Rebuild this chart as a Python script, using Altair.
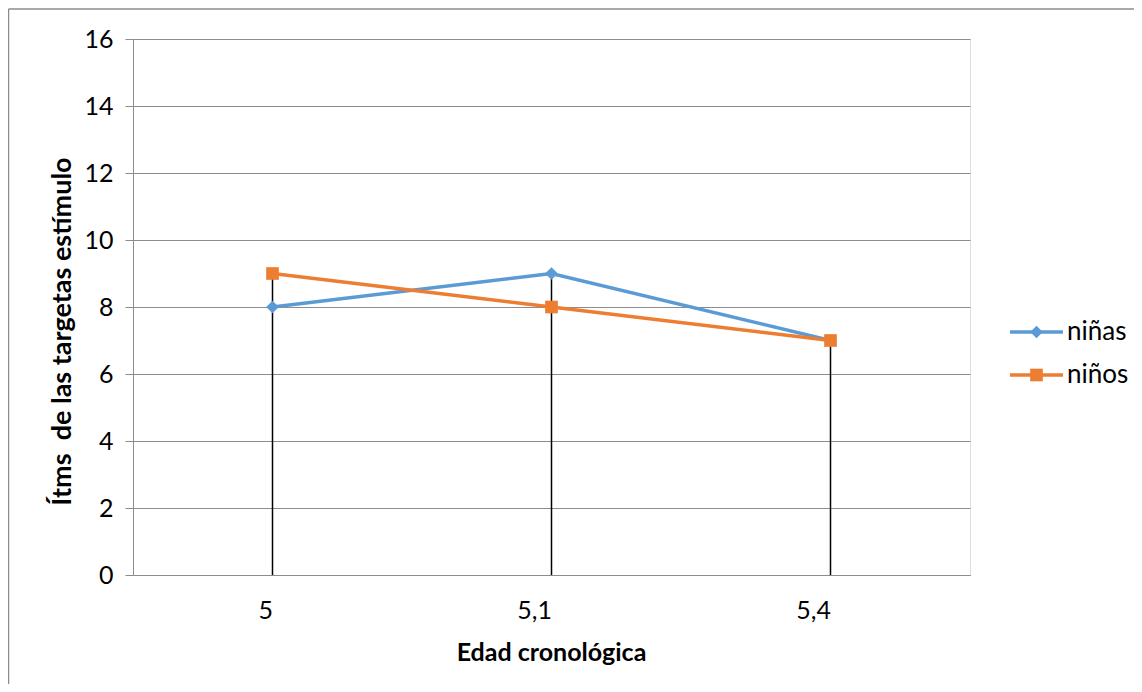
import altair as alt
import pandas as pd

categories = ["5", "5,1", "5,4"]
series_names = ["niñas", "niños"]
ninas = [8, 9, 7]
ninos = [9, 8, 7]
colors = ["#5B9BD5", "#ED7D31"]
shapes = ["diamond", "square"]

rows = []
for c, v in zip(categories, ninas):
    rows.append({"edad": c, "serie": series_names[0], "valor": v})
for c, v in zip(categories, ninos):
    rows.append({"edad": c, "serie": series_names[1], "valor": v})
df = pd.DataFrame(rows)

FONT = "Lato"
W, H = 837, 536
LABEL_SIZE = 25
TITLE_SIZE = 25

xenc = alt.X("edad:O", sort=categories,
             scale=alt.Scale(type="point", padding=0.5),
             axis=alt.Axis(title="Edad cronológica", ticks=False, labelAngle=0,
                           labelPadding=35, labelFontSize=LABEL_SIZE, labelFont=FONT,
                           labelColor="#000000", domainColor="#8c8c8c",
                           titleFont=FONT, titleFontSize=TITLE_SIZE, titleFontWeight="bold",
                           titleColor="#000000", titleX=418, titleY=77,
                           titleBaseline="middle", grid=False))
yenc = alt.Y("valor:Q",
             scale=alt.Scale(domain=[0, 16], nice=False),
             axis=alt.Axis(title="Ítms \u00a0de las targetas estímulo", values=list(range(0, 17, 2)),
                           tickSize=8, tickColor="#8c8c8c", domainColor="#8c8c8c",
                           gridColor="#8c8c8c", labelFontSize=LABEL_SIZE, labelFont=FONT,
                           labelColor="#000000", labelPadding=12,
                           titleFont=FONT, titleFontSize=27, titleFontWeight="bold",
                           titleColor="#000000", titleX=-71, titleY=292,
                           titleAngle=-90, titleBaseline="middle", titleAlign="center"))

color = alt.Color("serie:N", scale=alt.Scale(domain=series_names, range=colors), legend=None)
shape = alt.Shape("serie:N", scale=alt.Scale(domain=series_names, range=shapes), legend=None)

base = alt.Chart(df)

drops = base.transform_aggregate(
    maxv="max(valor)", groupby=["edad"]
).mark_rule(color="#000000", strokeWidth=1.5).encode(
    x=alt.X("edad:O", sort=categories, scale=alt.Scale(type="point", padding=0.5)),
    y=alt.Y("maxv:Q"),
    y2=alt.datum(0),
)

lines = base.mark_line(strokeWidth=3.5).encode(x=xenc, y=yenc, color=color, order=alt.Order("edad:O"))
points = base.mark_point(filled=True, opacity=1, size=160).encode(
    x=alt.X("edad:O", sort=categories), y="valor:Q", color=color, shape=shape)

frame_top = alt.Chart(pd.DataFrame({"a": [0]})).mark_rule(color="#8c8c8c", strokeWidth=1.5).encode(
    x=alt.value(-124.5), x2=alt.value(1100), y=alt.value(-30))
frame_left = alt.Chart(pd.DataFrame({"a": [0]})).mark_rule(color="#8c8c8c", strokeWidth=1.5).encode(
    x=alt.value(-124.5), y=alt.value(-30), y2=alt.value(700))

legend_layers = []
for i, (name, col, shp) in enumerate(zip(series_names, colors, shapes)):
    ly = 293 + i * 43
    ldf = pd.DataFrame({"serie": [name]})
    legend_layers.append(alt.Chart(ldf).mark_rule(color=col, strokeWidth=3.5).encode(
        x=alt.value(877), x2=alt.value(930), y=alt.value(ly)))
    legend_layers.append(alt.Chart(ldf).mark_point(filled=True, opacity=1, size=160, color=col, shape=shp).encode(
        x=alt.value(903.5), y=alt.value(ly)))
    legend_layers.append(alt.Chart(ldf).mark_text(align="left", baseline="middle", font=FONT,
                                                   fontSize=26, color="#000000").encode(
        x=alt.value(934), y=alt.value(ly), text="serie:N"))

chart = alt.layer(frame_top, frame_left, drops, lines, points, *legend_layers).properties(
    width=W, height=H,
    autosize=alt.AutoSizeParams(type="none"),
    padding={"left": 125, "top": 31, "right": 164, "bottom": 109},
).configure_view(stroke=None).configure(background="#ffffff")

chart.save("out.html", embed_options={"renderer": "svg", "actions": False})
